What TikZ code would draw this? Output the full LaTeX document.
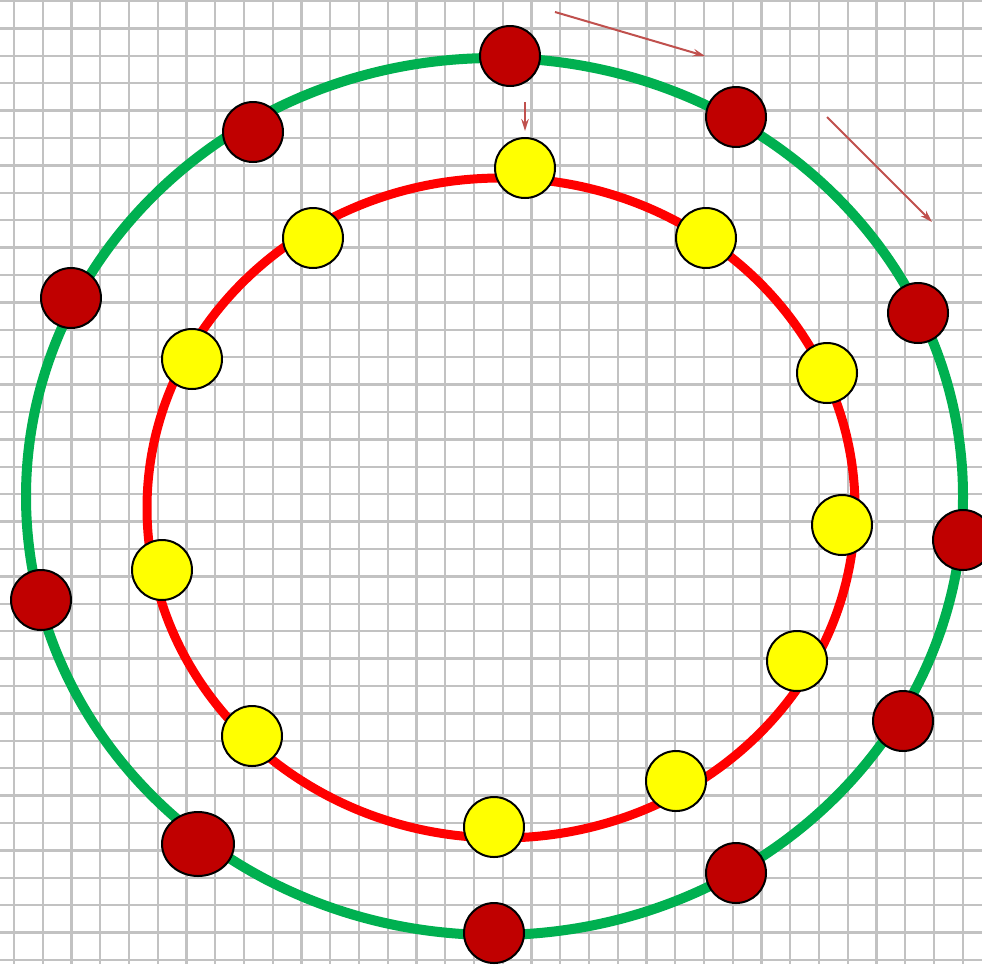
\documentclass[tikz,border=0pt]{standalone}
\usepackage{tikz}
\usetikzlibrary{shapes.geometric, arrows.meta, positioning, calc}

\definecolor{ringgreen}{HTML}{00B050}
\definecolor{ringred}{HTML}{FF0000}
\definecolor{dotred}{HTML}{C00000}
\definecolor{dotyellow}{HTML}{FFFF00}
\definecolor{arrowred}{HTML}{C0504D}

\begin{document}
\begin{tikzpicture}[
        x=0.02cm, y=-0.02cm,
        gridline/.style={draw=black!24, line width=0.045cm},
        ring/.style={line width=0.2cm},
        reddot/.style={circle, draw=black, line width=0.04cm, fill=dotred, minimum size=1.2cm, inner sep=0pt},
        yellowdot/.style={circle, draw=black, line width=0.04cm, fill=dotyellow, minimum size=1.2cm, inner sep=0pt},
        move/.style={-{Stealth[length=0.24cm, width=0.15cm]}, line width=0.04cm, draw=arrowred}
    ]
        \useasboundingbox (0,0) rectangle (982,964);
        \fill[white] (0,0) rectangle (982,964);
        % grid paper
        \foreach \k in {0,...,33}
            \draw[gridline] ({14+28.75*\k},0) -- ({14+28.75*\k},964);
        \foreach \k in {0,...,35}
            \draw[gridline] (0,{1+27.4*\k}) -- (982,{1+27.4*\k});
        % rings
        \draw[ring, draw=ringgreen] (494.5,496.5) ellipse [x radius=468.5, y radius=438.5];
        \draw[ring, draw=ringred, line width=0.18cm] (501,508) ellipse [x radius=354, y radius=330];
        % outer dots
        \node[reddot] (r1) at (510,56) {};
        \node[reddot] (r2) at (253,132) {};
        \node[reddot] (r3) at (71,298) {};
        \node[reddot] (r4) at (41,600) {};
        \node[reddot, ellipse, minimum width=1.44cm, minimum height=1.28cm] (r5) at (198,844) {};
        \node[reddot] (r6) at (494,933) {};
        \node[reddot] (r7) at (736,873) {};
        \node[reddot] (r8) at (903,721) {};
        \node[reddot] (r9) at (963,540) {};
        \node[reddot] (r10) at (918,313) {};
        \node[reddot] (r11) at (736,117) {};
        % inner dots
        \node[yellowdot] (y1) at (525,168) {};
        \node[yellowdot] (y2) at (313,238) {};
        \node[yellowdot] (y3) at (192,359) {};
        \node[yellowdot] (y4) at (162,570) {};
        \node[yellowdot] (y5) at (252,736) {};
        \node[yellowdot] (y6) at (494,827) {};
        \node[yellowdot] (y7) at (676,781) {};
        \node[yellowdot] (y8) at (797,661) {};
        \node[yellowdot] (y9) at (842,525) {};
        \node[yellowdot] (y10) at (827,373) {};
        \node[yellowdot] (y11) at (706,238) {};
        % direction arrows
        \coordinate (a1s) at (555,12);
        \coordinate (a1e) at (705,56);
        \coordinate (a2s) at (827,117);
        \coordinate (a2e) at (932,222);
        \coordinate (a3s) at (525,102);
        \coordinate (a3e) at (525,131);
        \draw[move] (a1s) -- (a1e);
        \draw[move] (a2s) -- (a2e);
        \draw[move] (a3s) -- (a3e);
    \end{tikzpicture}
\end{document}
